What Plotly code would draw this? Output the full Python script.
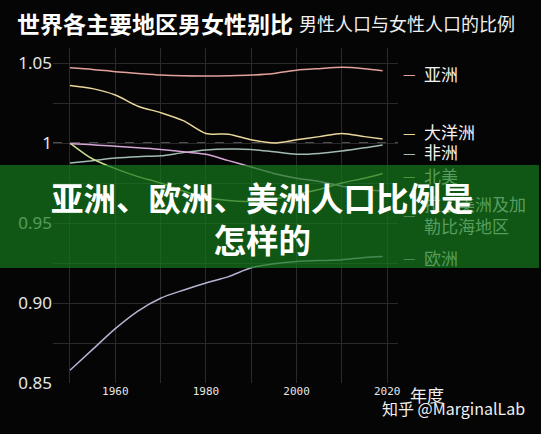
import plotly.graph_objects as go

# ---------------- data ----------------
years = [1950, 1955, 1960, 1965, 1970, 1975, 1980, 1985, 1990, 1995, 2000, 2005, 2010, 2015, 2019]

asia = [1.047, 1.046, 1.0446, 1.0435, 1.0425, 1.042, 1.0419, 1.0421, 1.0425, 1.0435, 1.0455, 1.0465, 1.0473, 1.0465, 1.0452]
oceania = [1.036, 1.034, 1.030, 1.023, 1.019, 1.014, 1.006, 1.0055, 1.002, 1.000, 1.002, 1.004, 1.006, 1.004, 1.0025]
africa = [0.9875, 0.989, 0.9906, 0.9915, 0.992, 0.994, 0.9956, 0.9962, 0.996, 0.9945, 0.993, 0.9935, 0.995, 0.997, 0.9988]
north_america = [1.000, 0.990, 0.984, 0.979, 0.975, 0.970, 0.966, 0.964, 0.9635, 0.965, 0.968, 0.971, 0.975, 0.978, 0.981]
latin_america = [0.9995, 0.999, 0.998, 0.997, 0.996, 0.9945, 0.993, 0.989, 0.985, 0.981, 0.978, 0.976, 0.973, 0.971, 0.970]
europe = [0.858, 0.871, 0.884, 0.895, 0.903, 0.908, 0.9125, 0.9165, 0.922, 0.9245, 0.926, 0.9265, 0.927, 0.9285, 0.929]

series_names = ["亚洲", "大洋洲", "非洲", "北美", "拉丁美洲及加<br>勒比海地区", "欧洲"]
series_values = [asia, oceania, africa, north_america, latin_america, europe]

y_tick_vals = [0.85, 0.875, 0.90, 0.925, 0.95, 0.975, 1.00, 1.025, 1.05]
y_tick_text = ["0.85", "", "0.90", "", "0.95", "", "1", "", "1.05"]
x_tick_vals = [1950, 1960, 1970, 1980, 1990, 2000, 2010, 2020]
x_tick_text = ["", "1960", "", "1980", "", "2000", "", "2020"]

# ---------------- styling / layout ----------------
colors = ["#e3a39c", "#ead69b", "#a3bbb5", "#c9dc8e", "#d6a6d6", "#b3b3d3"]
label_y = [1.04375, 1.0069, 0.9944, 0.980, 0.9556, 0.92875]   # label anchor heights (data units)
covered = [False, False, False, True, True, True]            # labels lying under the banner
Y_RANGE = [0.85, 1.0594]
X_RANGE = [1946.25, 2022.4]
DASH_XP = 1.0319
TEXT_XP = 1.0696

CJK = "Noto Sans CJK SC"
BG = "#050505"
BANNER_RGB = (21, 121, 29)
BANNER_A = 0.7


def hex_rgb(h):
    h = h.lstrip("#")
    return tuple(int(h[i:i + 2], 16) for i in (0, 2, 4))


def under_banner(h):
    r, g, b = hex_rgb(h)
    c = [round(v * (1 - BANNER_A) + bv * BANNER_A) for v, bv in zip((r, g, b), BANNER_RGB)]
    return "rgb(%d,%d,%d)" % tuple(c)


fig = go.Figure()

for name, vals, col in zip(series_names, series_values, colors):
    fig.add_trace(go.Scatter(
        x=years, y=vals, mode="lines",
        line=dict(color=col, width=1.5, shape="spline", smoothing=0.8),
        hoverinfo="skip", showlegend=False,
    ))

# dashed reference line at 1
fig.add_shape(type="line", xref="paper", x0=0, x1=1, yref="y", y0=1.0, y1=1.0,
              line=dict(color="#9a9a9a", width=1.2, dash="dash"), layer="between")

# green banner overlay
fig.add_shape(type="rect", xref="paper", yref="paper",
              x0=-0.16, x1=1.4087, y0=0.3433, y1=0.6507,
              fillcolor="rgba(%d,%d,%d,%s)" % (*BANNER_RGB, BANNER_A),
              line=dict(width=0), layer="above")

annotations = []
for name, ly, col, cov in zip(series_names, label_y, colors, covered):
    yp = (ly - Y_RANGE[0]) / (Y_RANGE[1] - Y_RANGE[0])
    dash_col = under_banner(col) if cov else col
    txt_col = under_banner("#f2f2f2") if cov else "#f2f2f2"
    annotations.append(dict(text="—", x=DASH_XP, y=yp, xref="paper", yref="paper",
                            xanchor="center", yanchor="middle", showarrow=False,
                            font=dict(family=CJK, size=14, color=dash_col)))
    annotations.append(dict(text=name, x=TEXT_XP, y=yp, xref="paper", yref="paper",
                            xanchor="left", yanchor="middle", showarrow=False, align="left",
                            font=dict(family=CJK, size=17, color=txt_col)))

annotations += [
    dict(text="<b>世界各主要地区男女性别比</b>", x=-0.110, y=1.0746, xref="paper", yref="paper",
         xanchor="left", yanchor="middle", showarrow=False,
         font=dict(family=CJK, size=23, color="#ffffff")),
    dict(text="男性人口与女性人口的比例", x=0.7072, y=1.0746, xref="paper", yref="paper",
         xanchor="left", yanchor="middle", showarrow=False,
         font=dict(family=CJK, size=18, color="#f0f0f0")),
    dict(text="年度", x=1.029, y=-0.0358, xref="paper", yref="paper",
         xanchor="left", yanchor="middle", showarrow=False,
         font=dict(family=CJK, size=17, color="#f0f0f0")),
    dict(text="知乎 @MarginalLab", x=0.948, y=-0.0746, xref="paper", yref="paper",
         xanchor="left", yanchor="middle", showarrow=False,
         font=dict(family=CJK, size=16, color="#f0f0f0")),
    dict(text="<b>亚洲、欧洲、美洲人口比例是<br>怎样的</b>", x=0.6058, y=0.4955,
         xref="paper", yref="paper", xanchor="center", yanchor="middle", showarrow=False,
         align="center", font=dict(family=CJK, size=32.5, color="#ffffff")),
]

fig.update_layout(
    width=541, height=434,
    margin=dict(l=53, r=143, t=48, b=51),
    paper_bgcolor=BG, plot_bgcolor=BG,
    showlegend=False,
    annotations=annotations,
    xaxis=dict(range=X_RANGE, tickvals=x_tick_vals, ticktext=x_tick_text,
               showgrid=True, gridcolor="#2a2a2a", gridwidth=1, zeroline=False,
               showline=False, ticks="",
               tickfont=dict(family="DejaVu Sans Mono", size=11, color="#e6e6e6")),
    yaxis=dict(range=Y_RANGE, tickvals=y_tick_vals, ticktext=y_tick_text,
               showgrid=True, gridcolor="#2a2a2a", gridwidth=1, zeroline=False,
               showline=False, ticks="",
               tickfont=dict(family="Noto Sans", size=17, color="#e6e6e6")),
)

fig.write_html(
    "out.html",
    config={"displayModeBar": False},
    post_script="document.body.style.margin='0';document.body.style.background='%s';" % BG,
)
